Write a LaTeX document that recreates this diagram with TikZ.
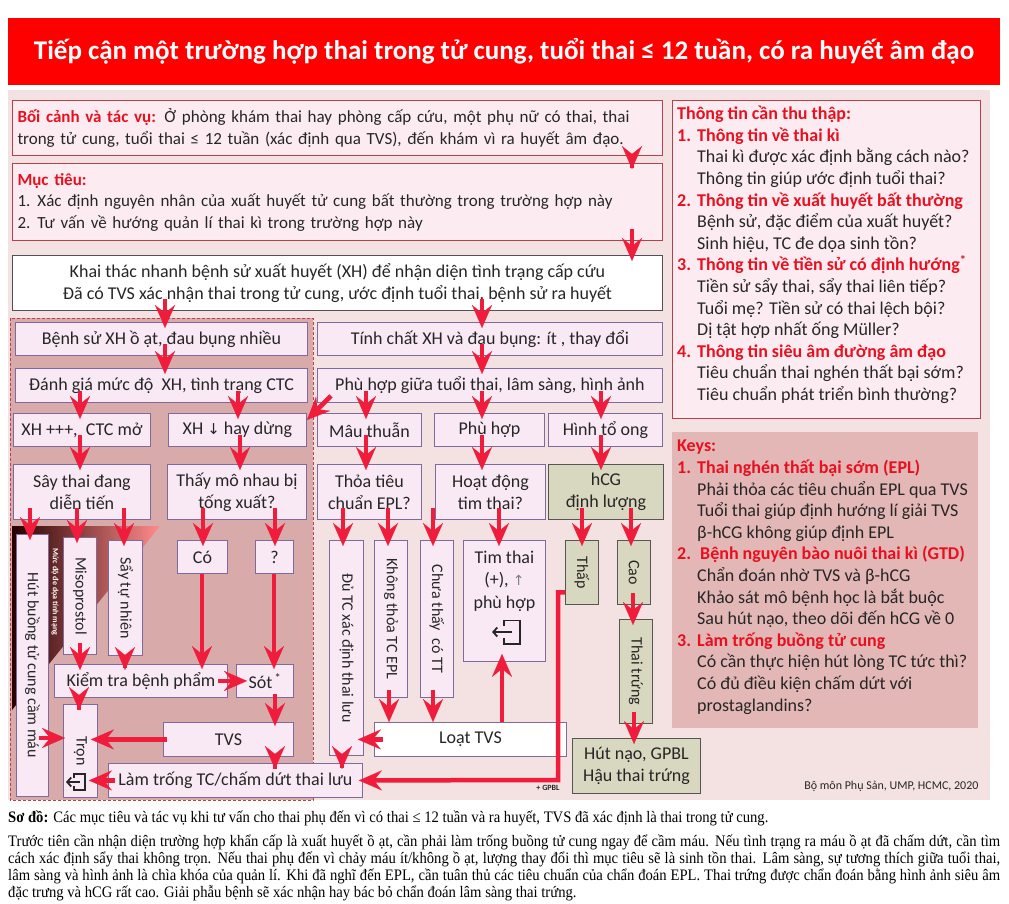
\documentclass[tikz,border=0pt]{standalone}
\usepackage{fontspec}
\usepackage{graphicx}
\usetikzlibrary{
  arrows.meta,
  positioning,
  calc
}
\setmainfont{Carlito}
\newfontfamily\capfont[FakeStretch=0.915]{Liberation Serif}
\newfontfamily\symfont{DejaVu Sans}
\definecolor{tcred}{HTML}{FE0000}
\definecolor{tcpanel}{HTML}{F4E2E2}
\definecolor{tczone}{HTML}{D8ABAA}
\definecolor{tckeys}{HTML}{E2B7B6}
\definecolor{tcbox}{HTML}{F9E9F5}
\definecolor{tcboxline}{HTML}{7E6A9C}
\definecolor{tcinfo}{HTML}{FCECF2}
\definecolor{tcinfoline}{HTML}{B8404C}
\definecolor{tckhaki}{HTML}{D8D7BF}
\definecolor{tckhakiline}{HTML}{555555}
\definecolor{tctext}{HTML}{262626}
\definecolor{tchead}{HTML}{E8101F}
\definecolor{tcarrow}{HTML}{F01C3C}
\newcommand{\hd}[1]{\textcolor{tchead}{\bfseries #1}}
\tikzset{
  exiticon/.pic={
    \draw[line width=1.8pt, tctext] (-3,-4) -- (-3,-8) -- (8,-8) -- (8,8) -- (-3,8) -- (-3,4);
    \draw[line width=1.8pt, tctext, -{Straight Barb[length=4pt,width=9pt]}] (3,0) -- (-11,0);
  }
}

\begin{document}
\begin{tikzpicture}[x=1pt, y=-1pt,
    titlebar/.style={rectangle, fill=tcred, text=white, inner sep=0pt,
      minimum width=992, minimum height=67,
      font=\bfseries\fontsize{27}{30}\selectfont},
    pbox/.style={rectangle, anchor=north west, inner sep=0pt,
      draw=tcboxline, fill=tcbox, line width=0.9pt,
      font=\fontsize{18}{22}\selectfont, text=tctext, align=center},
    vbox/.style={pbox, font=\fontsize{16}{20}\selectfont},
    kbox/.style={pbox, draw=tckhakiline, fill=tckhaki},
    wbox/.style={pbox, fill=white},
    infobox/.style={pbox, draw=tcinfoline, fill=tcinfo, line width=1pt,
      font=\fontsize{17}{21.5}\selectfont},
    keybox/.style={pbox, draw=none, fill=tckeys},
    listtext/.style={anchor=north west, inner sep=0pt, align=left,
      font=\fontsize{18}{21.6}\selectfont, text=tctext},
    inlabel/.style={font=\fontsize{18}{22.5}\selectfont, text=tctext, align=center},
    arr/.style={draw=tcarrow, line width=4.5pt,
      -{Stealth[length=23pt, width=20pt, inset=8pt, line width=0.1pt]}},
    stub/.style={arr, shorten <=-12pt, shorten >=-6pt},
    note/.style={font=\bfseries\fontsize{8}{9}\selectfont, text=tctext},
    captext/.style={anchor=north west, inner sep=0pt, align=left,
      font=\capfont\fontsize{16}{17}\selectfont, text=black}
  ]
  \useasboundingbox (0,0) rectangle (1009,904);
  \fill[white] (0,0) rectangle (1009,904);

  % Title
  \node[titlebar] (title) at (504,51.5) {Tiếp cận một trường hợp thai trong tử cung, tuổi thai ≤ 12 tuần, có ra huyết âm đạo};

  % Panel, left zone and danger wedge
  \fill[tcpanel] (8,90) rectangle (990,800);
  \draw[tcinfoline, dash pattern=on 3pt off 2pt, fill=tczone, line width=0.8pt] (10,318) rectangle (313,800);
  \shade[left color=black!85!red, middle color=red!95!black, right color=red!45]
    (12,526) -- (160,526) -- (12,710) -- cycle;
  \node[text=white, inner sep=0pt, font=\bfseries\fontsize{8}{9}\selectfont] (mucdo) at (55,592)
    {\rotatebox{-90}{Mức độ đe dọa tính mạng}};

  % Context, goals, history
  \node[infobox, minimum width=650, minimum height=55, text width=640, align=left] (boicanh) at (12,100)
    {\hd{Bối cảnh và tác vụ:} Ở phòng khám thai hay phòng cấp cứu, một phụ nữ có thai, thai\\
     trong tử cung, tuổi thai ≤ 12 tuần (xác định qua TVS), đến khám vì ra huyết âm đạo.};
  \node[infobox, minimum width=650, minimum height=77, text width=640, align=left] (muctieu) at (12,163)
    {\hd{Mục tiêu:}\\
     \makebox[20pt][l]{1.}Xác định nguyên nhân của xuất huyết tử cung bất thường trong trường hợp này\\
     \makebox[20pt][l]{2.}Tư vấn về hướng quản lí thai kì trong trường hợp này};
  \node[wbox, draw=tctext!80, minimum width=650, minimum height=55] (khai) at (12,255)
    {Khai thác nhanh bệnh sử xuất huyết (XH) để nhận diện tình trạng cấp cứu\\
     Đã có TVS xác nhận thai trong tử cung, ước định tuổi thai, bệnh sử ra huyết};

  % Information to collect
  \node[infobox, minimum width=308, minimum height=318] (info) at (672,100) {};
  \node[listtext] (infotext) at (677,106)
    {\hd{Thông tin cần thu thập:}\\
     \hd{\makebox[20pt][l]{1.}Thông tin về thai kì}\\
     \hspace*{20pt}Thai kì được xác định bằng cách nào?\\
     \hspace*{20pt}Thông tin giúp ước định tuổi thai?\\
     \hd{\makebox[20pt][l]{2.}Thông tin về xuất huyết bất thường}\\
     \hspace*{20pt}Bệnh sử, đặc điểm của xuất huyết?\\
     \hspace*{20pt}Sinh hiệu, TC đe dọa sinh tồn?\\
     \hd{\makebox[20pt][l]{3.}Thông tin về tiền sử có định hướng\textsuperscript{*}}\\
     \hspace*{20pt}Tiền sử sẩy thai, sẩy thai liên tiếp?\\
     \hspace*{20pt}Tuổi mẹ? Tiền sử có thai lệch bội?\\
     \hspace*{20pt}Dị tật hợp nhất ống Müller?\\
     \hd{\makebox[20pt][l]{4.}Thông tin siêu âm đường âm đạo}\\
     \hspace*{20pt}Tiêu chuẩn thai nghén thất bại sớm?\\
     \hspace*{20pt}Tiêu chuẩn phát triển bình thường?};

  % Keys
  \node[keybox, minimum width=306, minimum height=296] (keys) at (672,432) {};
  \node[listtext] (keystext) at (677,440)
    {\hd{Keys:}\\
     \hd{\makebox[20pt][l]{1.}Thai nghén thất bại sớm (EPL)}\\
     \hspace*{20pt}Phải thỏa các tiêu chuẩn EPL qua TVS\\
     \hspace*{20pt}Tuổi thai giúp định hướng lí giải TVS\\
     \hspace*{20pt}β-hCG không giúp định EPL\\
     \hd{\makebox[20pt][l]{2.}\,Bệnh nguyên bào nuôi thai kì (GTD)}\\
     \hspace*{20pt}Chẩn đoán nhờ TVS và β-hCG\\
     \hspace*{20pt}Khảo sát mô bệnh học là bắt buộc\\
     \hspace*{20pt}Sau hút nạo, theo dõi đến hCG về 0\\
     \hd{\makebox[20pt][l]{3.}Làm trống buồng tử cung}\\
     \hspace*{20pt}Có cần thực hiện hút lòng TC tức thì?\\
     \hspace*{20pt}Có đủ điều kiện chấm dứt với\\
     \hspace*{20pt}prostaglandins?};

  % Left branch: heavy bleeding
  \node[pbox, minimum width=292, minimum height=33] (bsxh) at (15,322) {Bệnh sử XH ồ ạt, đau bụng nhiều};
  \node[pbox, minimum width=292, minimum height=34] (dgia) at (15,368) {Đánh giá mức độ \ XH, tình trạng CTC};
  \node[pbox, minimum width=137, minimum height=33] (xhtang) at (13,413) {XH +++, \ CTC mở};
  \node[pbox, minimum width=138, minimum height=33] (xhgiam) at (168,413) {XH {\symfont\fontsize{15}{17}\selectfont ↓} hay dừng};
  \node[pbox, minimum width=137, minimum height=55] (saydd) at (13,464) {Sây thai đang\\diễn tiến};
  \node[pbox, minimum width=139, minimum height=55] (thaymo) at (167,464) {Thấy mô nhau bị\\tống xuất?};
  \node[vbox, minimum width=32, minimum height=262] (hut) at (16,534) {\rotatebox{-90}{Hút buồng tử cung cầm máu}};
  \node[vbox, minimum width=33, minimum height=117] (miso) at (63,537) {\rotatebox{-90}{Misoprostol}};
  \node[vbox, minimum width=34, minimum height=115] (saytn) at (108,540) {\rotatebox{-90}{Sẩy tự nhiên}};
  \node[pbox, minimum width=50, minimum height=33] (co) at (177,540) {Có};
  \node[pbox, minimum width=38, minimum height=33] (hoi) at (255,540) {?};
  \node[pbox, minimum width=173, minimum height=33] (kiemtra) at (54,664) {Kiểm tra bệnh phẩm};
  \node[pbox, minimum width=57, minimum height=33] (sot) at (236,664) {Sót\textsuperscript{\,*}};
  \node[vbox, minimum width=34, minimum height=93] (tron) at (63,704) {\rotatebox{-90}{Trọn}};
  \node[pbox, minimum width=130, minimum height=34] (tvs) at (163,722) {TVS};
  \node[pbox, minimum width=254, minimum height=34] (lamtrong) at (108,763) {Làm trống TC/chấm dứt thai lưu};
  \pic at (77,782) {exiticon};

  % Right branch: little bleeding
  \node[pbox, minimum width=345, minimum height=33] (tinhchat) at (317,322) {Tính chất XH và đau bụng: ít , thay đổi};
  \node[pbox, minimum width=345, minimum height=34] (phgiua) at (317,368) {Phù hợp giữa tuổi thai, lâm sàng, hình ảnh};
  \node[pbox, minimum width=104, minimum height=33] (mauthuan) at (317,413) {Mâu thuẫn};
  \node[pbox, minimum width=110, minimum height=33] (phuhop) at (434,413) {Phù hợp};
  \node[pbox, minimum width=114, minimum height=33] (toong) at (548,413) {Hình tổ ong};
  \node[pbox, minimum width=104, minimum height=55] (thoa) at (317,464) {Thỏa tiêu\\chuẩn EPL?};
  \node[pbox, minimum width=110, minimum height=55] (hoatdong) at (435,464) {Hoạt động\\tim thai?};
  \node[kbox, minimum width=115, minimum height=55] (hcg) at (548,464) {hCG\\định lượng};
  \node[vbox, minimum width=34, minimum height=215] (dutc) at (329,540) {\rotatebox{-90}{Đủ TC xác định thai lưu}};
  \node[vbox, minimum width=33, minimum height=157] (khongthoa) at (374,540) {\rotatebox{-90}{Không thỏa TC EPL}};
  \node[vbox, minimum width=33, minimum height=157] (chuathay) at (420,540) {\rotatebox{-90}{Chưa thấy \ có TT}};
  \node[pbox, minimum width=82, minimum height=121,
    label={[inlabel, yshift=20pt]center:{Tim thai\\(+), {\symfont\fontsize{14}{16}\selectfont\textcolor{gray}{↑}}\\phù hợp}}] (timthai) at (463,540) {};
  \pic[scale=1.45] at (508,632) {exiticon};
  \node[kbox, font=\fontsize{16}{20}\selectfont, minimum width=33, minimum height=64] (thap) at (565,540) {\rotatebox{-90}{Thấp}};
  \node[kbox, font=\fontsize{16}{20}\selectfont, minimum width=33, minimum height=64] (cao) at (617,540) {\rotatebox{-90}{Cao}};
  \node[kbox, font=\fontsize{16}{20}\selectfont, minimum width=33, minimum height=104] (thaitrung) at (619,619) {\rotatebox{-90}{Thai trứng}};
  \node[wbox, minimum width=192, minimum height=34] (loat) at (374,722) {Loạt TVS};
  \node[kbox, minimum width=128, minimum height=55] (hutnao) at (572,738) {Hút nạo, GPBL\\Hậu thai trứng};
  \node[note] (gpbl) at (548,788) {+ GPBL};
  \node[font=\fontsize{12}{14}\selectfont, text=tctext, anchor=east] (credit) at (982,786) {Bộ môn Phụ Sản, UMP, HCMC, 2020};

  % Arrows, top
  \draw[stub] (boicanh.south -| 632,0) -- (muctieu.north -| 632,0);
  \draw[stub] (muctieu.south -| 632,0) -- (khai.north -| 632,0);
  \draw[stub] (khai.south -| 165,0) -- (bsxh.north -| 165,0);
  \draw[stub] (khai.south -| 482,0) -- (tinhchat.north -| 482,0);

  % Arrows, left branch
  \draw[stub] (bsxh.south -| 165,0) -- (dgia.north -| 165,0);
  \draw[stub] (dgia.south -| 80,0) -- (xhtang.north -| 80,0);
  \draw[stub] (dgia.south -| 238,0) -- (xhgiam.north -| 238,0);
  \draw[stub] (xhtang.south -| 80,0) -- (saydd.north -| 80,0);
  \draw[stub] (xhgiam.south -| 240,0) -- (thaymo.north -| 240,0);
  \draw[stub] (saydd.south -| 30,0) -- (hut.north -| 30,0);
  \draw[stub] (saydd.south -| 77,0) -- (miso.north -| 77,0);
  \draw[stub] (saydd.south -| 124,0) -- (saytn.north -| 124,0);
  \draw[stub] (thaymo.south -| 203,0) -- (co.north -| 203,0);
  \draw[stub] (thaymo.south -| 275,0) -- (hoi.north -| 275,0);
  \draw[stub] (miso.south -| 80,0) -- (kiemtra.north -| 80,0);
  \draw[stub] (saytn.south -| 125,0) -- (kiemtra.north -| 125,0);
  \draw[arr, shorten >=-5pt] (co.south -| 202,0) -- (kiemtra.north -| 202,0);
  \draw[arr, shorten >=-5pt] (hoi.south -| 274,0) -- (sot.north -| 274,0);
  \draw[arr, shorten <=-10pt, shorten >=-11pt] (kiemtra.east) -- (sot.west);
  \draw[stub] (kiemtra.south -| 79,0) -- (tron.north -| 79,0);
  \draw[arr, shorten <=-4pt, shorten >=-4pt] (sot.south -| 275,0) -- (tvs.north -| 275,0);
  \draw[arr, shorten <=-10pt, shorten >=-2pt] (hut.east |- 0,738) -- (tron.west |- 0,738);
  \draw[arr, shorten <=-4pt, shorten >=-7pt] (tvs.west) -- (tron.east |- tvs.west);
  \draw[stub] (tvs.south -| 275,0) -- (lamtrong.north -| 275,0);
  \draw[arr, shorten <=-7pt, shorten >=-9pt] (lamtrong.west) -- (tron.east |- lamtrong.west);

  % Arrows, right branch
  \draw[stub] (tinhchat.south -| 482,0) -- (phgiua.north -| 482,0);
  \draw[arr] ([xshift=14pt,yshift=7pt]phgiua.south west) -- ([yshift=-7pt]xhgiam.north east);
  \draw[stub] (phgiua.south -| 366,0) -- (mauthuan.north -| 366,0);
  \draw[stub] (phgiua.south -| 482,0) -- (phuhop.north -| 482,0);
  \draw[stub] (phgiua.south -| 601,0) -- (toong.north -| 601,0);
  \draw[stub] (mauthuan.south -| 366,0) -- (thoa.north -| 366,0);
  \draw[stub] (phuhop.south -| 482,0) -- (hoatdong.north -| 482,0);
  \draw[stub] (toong.south -| 601,0) -- (hcg.north -| 601,0);
  \draw[stub] (thoa.south -| 343,0) -- (dutc.north -| 343,0);
  \draw[stub] (thoa.south -| 388,0) -- (khongthoa.north -| 388,0);
  \draw[stub] (hoatdong.south -| 433,0) -- (chuathay.north -| 433,0);
  \draw[stub] (hoatdong.south -| 499,0) -- (timthai.north -| 499,0);
  \draw[stub] (hcg.south -| 582,0) -- (thap.north -| 582,0);
  \draw[stub] (hcg.south -| 631,0) -- (cao.north -| 631,0);
  \draw[stub] (cao.south -| 633,0) -- (thaitrung.north -| 633,0);
  \draw[stub] (thaitrung.south -| 634,0) -- (hutnao.north -| 634,0);
  \draw[arr, shorten <=-8pt] (khongthoa.south -| 389,0) -- (loat.north -| 389,0);
  \draw[arr, shorten <=-8pt] (chuathay.south -| 433,0) -- (loat.north -| 433,0);
  \draw[arr, shorten <=-9pt, shorten >=-6pt] (loat.west) -- (dutc.east |- loat.west);
  \draw[arr, shorten >=-8pt] (loat.north -| 502,0) -- (timthai.south -| 502,0);
  \draw[stub] (dutc.south -| 342,0) -- (lamtrong.north -| 342,0);
  \coordinate (gpblbend) at (558,780);
  \draw[arr] ([yshift=-20pt]thap.west) -| (gpblbend) -- ([xshift=-4pt]lamtrong.east);

  % Caption
  \node[captext] (capline) at (8,811)
    {\textbf{Sơ đồ:} Các mục tiêu và tác vụ khi tư vấn cho thai phụ đến vì có thai ≤ 12 tuần và ra huyết, TVS đã xác định là thai trong tử cung.};
  \node[captext] (cappara) at (8,835)
    {\makebox[992pt][s]{Trước tiên cần nhận diện trường hợp khẩn cấp là xuất huyết ồ ạt, cần phải làm trống buồng tử cung ngay để cầm máu. Nếu tình trạng ra máu ồ ạt đã chấm dứt, cần tìm}\\
     \makebox[992pt][s]{cách xác định sẩy thai không trọn. Nếu thai phụ đến vì chảy máu ít/không ồ ạt, lượng thay đổi thì mục tiêu sẽ là sinh tồn thai. Lâm sàng, sự tương thích giữa tuổi thai,}\\
     \makebox[992pt][s]{lâm sàng và hình ảnh là chìa khóa của quản lí. Khi đã nghĩ đến EPL, cần tuân thủ các tiêu chuẩn của chẩn đoán EPL. Thai trứng được chẩn đoán bằng hình ảnh siêu âm}\\
     đặc trưng và hCG rất cao. Giải phẫu bệnh sẽ xác nhận hay bác bỏ chẩn đoán lâm sàng thai trứng.};
\end{tikzpicture}
\end{document}
